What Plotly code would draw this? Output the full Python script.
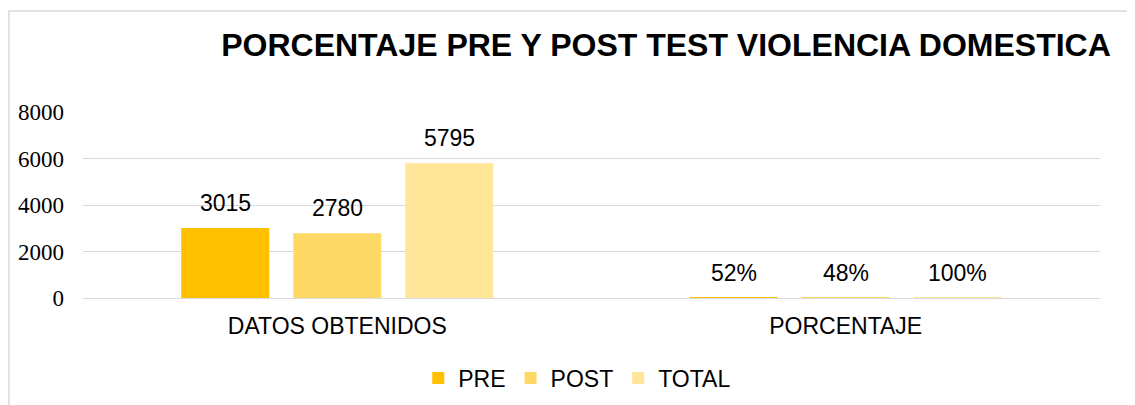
import plotly.graph_objects as go

categories = ["DATOS OBTENIDOS", "PORCENTAJE"]
series_names = ["PRE", "POST", "TOTAL"]
pre_values = [3015, 0.52]
post_values = [2780, 0.48]
total_values = [5795, 1.00]
pre_labels = ["3015", "52%"]
post_labels = ["2780", "48%"]
total_labels = ["5795", "100%"]
y_ticks = [0, 2000, 4000, 6000, 8000]

colors = ["#FFC000", "#FFD966", "#FFE699"]
values = [pre_values, post_values, total_values]
labels = [pre_labels, post_labels, total_labels]

BARGAP = 0.339
BARGROUPGAP = 0.214

# The page body has an 8px margin, so the figure is drawn 8px smaller.
W, H = 1127, 397
ML, MR, MT, MB = 75, 35, 104, 107
PW, PH = W - ML - MR, H - MT - MB

fig = go.Figure()
for name, vals, col in zip(series_names, values, colors):
    fig.add_trace(go.Bar(name=name, x=categories, y=vals, marker=dict(color=col, line=dict(width=0)),
                         hoverinfo="skip"))

n = len(series_names)
slot = (1 - BARGAP) / n
annotations = []
for i, labs in enumerate(labels):
    for j, (v, t) in enumerate(zip(values[i], labs)):
        annotations.append(dict(
            x=j + (i - (n - 1) / 2) * slot, y=v, xref="x", yref="y",
            text=t, showarrow=False, yanchor="bottom", yshift=10,
            font=dict(family="Liberation Sans, Arial", size=23, color="#000000"),
        ))

fig.update_layout(
    width=W, height=H,
    paper_bgcolor="white", plot_bgcolor="white",
    barmode="group", bargap=BARGAP, bargroupgap=BARGROUPGAP,
    margin=dict(l=ML, r=MR, t=MT, b=MB, autoexpand=False),
    title=dict(text="<b>PORCENTAJE PRE Y POST TEST VIOLENCIA DOMESTICA</b>",
               x=658 / W, xanchor="center", xref="container",
               y=1 - 37 / H, yanchor="middle", yref="container",
               font=dict(family="Liberation Sans, Arial", size=32, color="#000000")),
    xaxis=dict(showgrid=False, showline=False, ticks="", ticklabelstandoff=12,
               tickfont=dict(family="Liberation Sans, Arial", size=23, color="#000000")),
    yaxis=dict(range=[0, 8000], tickvals=y_ticks, showgrid=True, gridcolor="#D9D9D9", gridwidth=1.3,
               zeroline=True, zerolinecolor="#D9D9D9", zerolinewidth=1.3, showline=False, ticks="",
               ticklabelstandoff=18,
               tickfont=dict(family="Liberation Serif", size=23, color="#000000")),
    legend=dict(orientation="h", x=0.486, xanchor="center", y=-0.43, yanchor="middle",
                font=dict(family="Liberation Sans, Arial", size=23, color="#000000"),
                bgcolor="rgba(0,0,0,0)"),
    annotations=annotations,
    shapes=[dict(type="rect", xref="paper", yref="paper",
                 x0=(1 - ML) / PW, x1=(W + 10 - ML) / PW,
                 y0=(MT + PH - H - 10) / PH, y1=(MT + PH - 3) / PH,
                 line=dict(color="#D9D9D9", width=1.5), fillcolor="rgba(0,0,0,0)", layer="below")],
    showlegend=True,
)

fig.write_html("out.html")
